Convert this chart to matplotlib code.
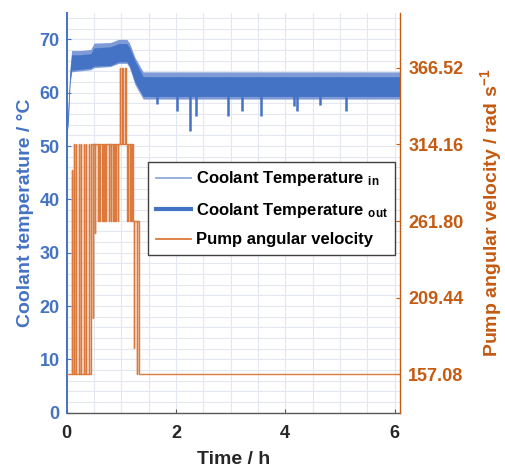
import numpy as np
import matplotlib
matplotlib.use("Agg")
import matplotlib.pyplot as plt
from matplotlib.lines import Line2D

plt.rcParams['font.family'] = ['Liberation Sans', 'DejaVu Sans']
plt.rcParams['font.weight'] = 'bold'
plt.rcParams['mathtext.fontset'] = 'custom'
plt.rcParams['mathtext.rm'] = 'Liberation Sans:bold'
plt.rcParams['mathtext.bf'] = 'Liberation Sans:bold'
plt.rcParams['mathtext.it'] = 'Liberation Sans:bold'

# ---------------- data ----------------
# coolant temperature envelopes (band of the fast oscillation), degC
temp_t = [0.00, 0.03, 0.06, 0.09, 0.25, 0.44, 0.50, 0.80, 0.95, 1.10, 1.15, 1.25, 1.40, 6.10]
out_hi = [52.0, 58.0, 64.0, 67.1, 67.1, 67.3, 68.4, 68.6, 69.2, 69.2, 68.5, 66.0, 63.0, 63.0]
out_lo = [51.5, 55.0, 62.0, 64.2, 64.4, 64.6, 65.0, 65.1, 65.8, 65.8, 65.0, 62.0, 59.3, 59.3]
in_hi = [52.3, 58.5, 64.5, 67.9, 67.9, 68.1, 69.3, 69.4, 70.0, 70.0, 69.3, 66.6, 63.9, 63.9]
in_lo = [51.3, 54.5, 61.5, 63.9, 64.1, 64.3, 64.7, 64.9, 65.5, 65.5, 64.7, 61.5, 58.8, 58.8]
# occasional downward spikes of the outlet temperature
dip_t = [1.645, 2.01, 2.25, 2.36, 2.95, 3.20, 3.56, 4.16, 4.22, 4.63, 5.11]
dip_min = [57.9, 56.5, 52.8, 55.6, 55.6, 56.5, 55.6, 57.5, 56.5, 57.7, 56.5]

# pump angular velocity, rad/s: base level changes and short excursions
base_t = [0.00, 0.44, 1.21, 1.33]
base_v = [157.08, 314.16, 261.80, 157.08]
spike_t = [0.09, 0.13, 0.17, 0.22, 0.26, 0.31, 0.35, 0.40,
           0.48, 0.52, 0.57, 0.60, 0.65, 0.69, 0.72, 0.77, 0.81, 0.85, 0.89, 0.93,
           0.97, 1.02, 1.07, 1.11, 1.15, 1.18, 1.225, 1.28]
spike_v = [296.71, 314.16, 314.16, 314.16, 314.16, 314.16, 314.16, 314.16,
           195.60, 253.70, 261.80, 261.80, 261.80, 261.80, 261.80, 261.80, 261.80, 261.80, 261.80, 261.80,
           366.52, 366.52, 366.52, 261.80, 261.80, 261.80, 175.00, 157.08]
t_end = 6.1

x_ticks = [0, 2, 4, 6]
y_ticks = [0, 10, 20, 30, 40, 50, 60, 70]
y2_ticks = [157.08, 209.44, 261.80, 314.16, 366.52]
y2_labels = ['157.08', '209.44', '261.80', '314.16', '366.52']

# ---------------- colours ----------------
BLUE = '#4472C4'
LBLUE = '#7E9BD7'
LEG_LBLUE = '#8EA9DB'
ORANGE_TXT = '#C55A11'
ORANGE = '#DB7A3C'
GRID = '#E3E8F0'

# build pump step path
def base_at(t):
    v = base_v[0]
    for bt, bv in zip(base_t, base_v):
        if t >= bt:
            v = bv
    return v

events = [(bt, bv) for bt, bv in zip(base_t, base_v)]
w = 0.007
for st, sv in zip(spike_t, spike_v):
    events.append((st, sv))
    events.append((st + w, base_at(st + w)))
events.sort(key=lambda e: e[0])
pt = [e[0] for e in events] + [t_end]
pv = [e[1] for e in events] + [events[-1][1]]

fig = plt.figure(figsize=(5.06, 4.66), dpi=100)
ax = fig.add_axes([0.1318, 0.1144, 0.6587, 0.8584])
ax2 = ax.twinx()

ax.set_xlim(0, 6.1)
ax.set_ylim(0, 75)
ax2.set_ylim(131.0, 404.0)

# temperature bands
ax.fill_between(temp_t, in_lo, in_hi, color=LBLUE, lw=0, zorder=2)
ax.fill_between(temp_t, out_lo, out_hi, color=BLUE, lw=0, zorder=3)
ax.vlines(dip_t, dip_min, [out_lo[-1]] * len(dip_t), color=BLUE, lw=1.8, zorder=3)

# pump
ax2.plot(pt, pv, drawstyle='steps-post', color=ORANGE, lw=1.0)

# grid
ax.set_xticks(x_ticks)
ax.set_xticks(np.arange(0, 6.01, 0.5), minor=True)
ax.set_yticks(y_ticks)
ax.set_yticks(np.arange(0, 75.1, 2), minor=True)
ax.grid(which='both', color=GRID, lw=0.8)
ax.set_axisbelow(True)

ax2.set_yticks(y2_ticks)
ax2.set_yticklabels(y2_labels)

# spines
for a in (ax, ax2):
    a.spines['top'].set_visible(False)
ax.spines['right'].set_visible(False)
ax2.spines['left'].set_visible(False)
ax2.spines['bottom'].set_visible(False)
ax.spines['left'].set_color(BLUE)
ax.spines['left'].set_linewidth(1.4)
ax.spines['bottom'].set_color('#595959')
ax.spines['bottom'].set_linewidth(1.0)
ax2.spines['right'].set_color(ORANGE_TXT)
ax2.spines['right'].set_linewidth(1.0)

TS = 13
ax.tick_params(axis='x', which='major', direction='in', length=3, color='#595959',
               labelsize=TS, labelcolor='#262626', pad=9)
ax.tick_params(axis='y', which='major', direction='in', length=3, color=BLUE,
               labelsize=TS, labelcolor=BLUE, pad=5)
ax.tick_params(which='minor', length=0)
ax2.tick_params(axis='y', direction='in', length=3, color=ORANGE_TXT,
                labelsize=TS, labelcolor=ORANGE_TXT, pad=6)
for lab in ax.get_xticklabels() + ax.get_yticklabels() + ax2.get_yticklabels():
    lab.set_fontweight('bold')

ax.set_xlabel('Time / h', fontsize=14, fontweight='bold', color='#262626', labelpad=6)
ax.set_ylabel('Coolant temperature / \u00b0C', fontsize=14, fontweight='bold', color=BLUE, labelpad=4)
ax2.set_ylabel('Pump angular velocity / rad s$^{-1}$', fontsize=14, fontweight='bold',
               color=ORANGE_TXT, labelpad=10.5)

handles = [Line2D([], [], color=LEG_LBLUE, lw=1.3),
           Line2D([], [], color=BLUE, lw=3.0),
           Line2D([], [], color=ORANGE, lw=1.3)]
labels = ['Coolant Temperature $_{in}$',
          'Coolant Temperature $_{out}$',
          'Pump angular velocity']
leg = ax2.legend(handles, labels, loc='upper left', bbox_to_anchor=(0.244, 0.627),
                 frameon=True, fancybox=False, edgecolor='#404040', framealpha=1,
                 prop={'size': 12, 'weight': 'bold'}, handlelength=2.1, handletextpad=0.3,
                 labelspacing=0.75, borderpad=0.45, borderaxespad=0)
leg.get_frame().set_linewidth(1.0)

fig.savefig('out.png', dpi=100)
